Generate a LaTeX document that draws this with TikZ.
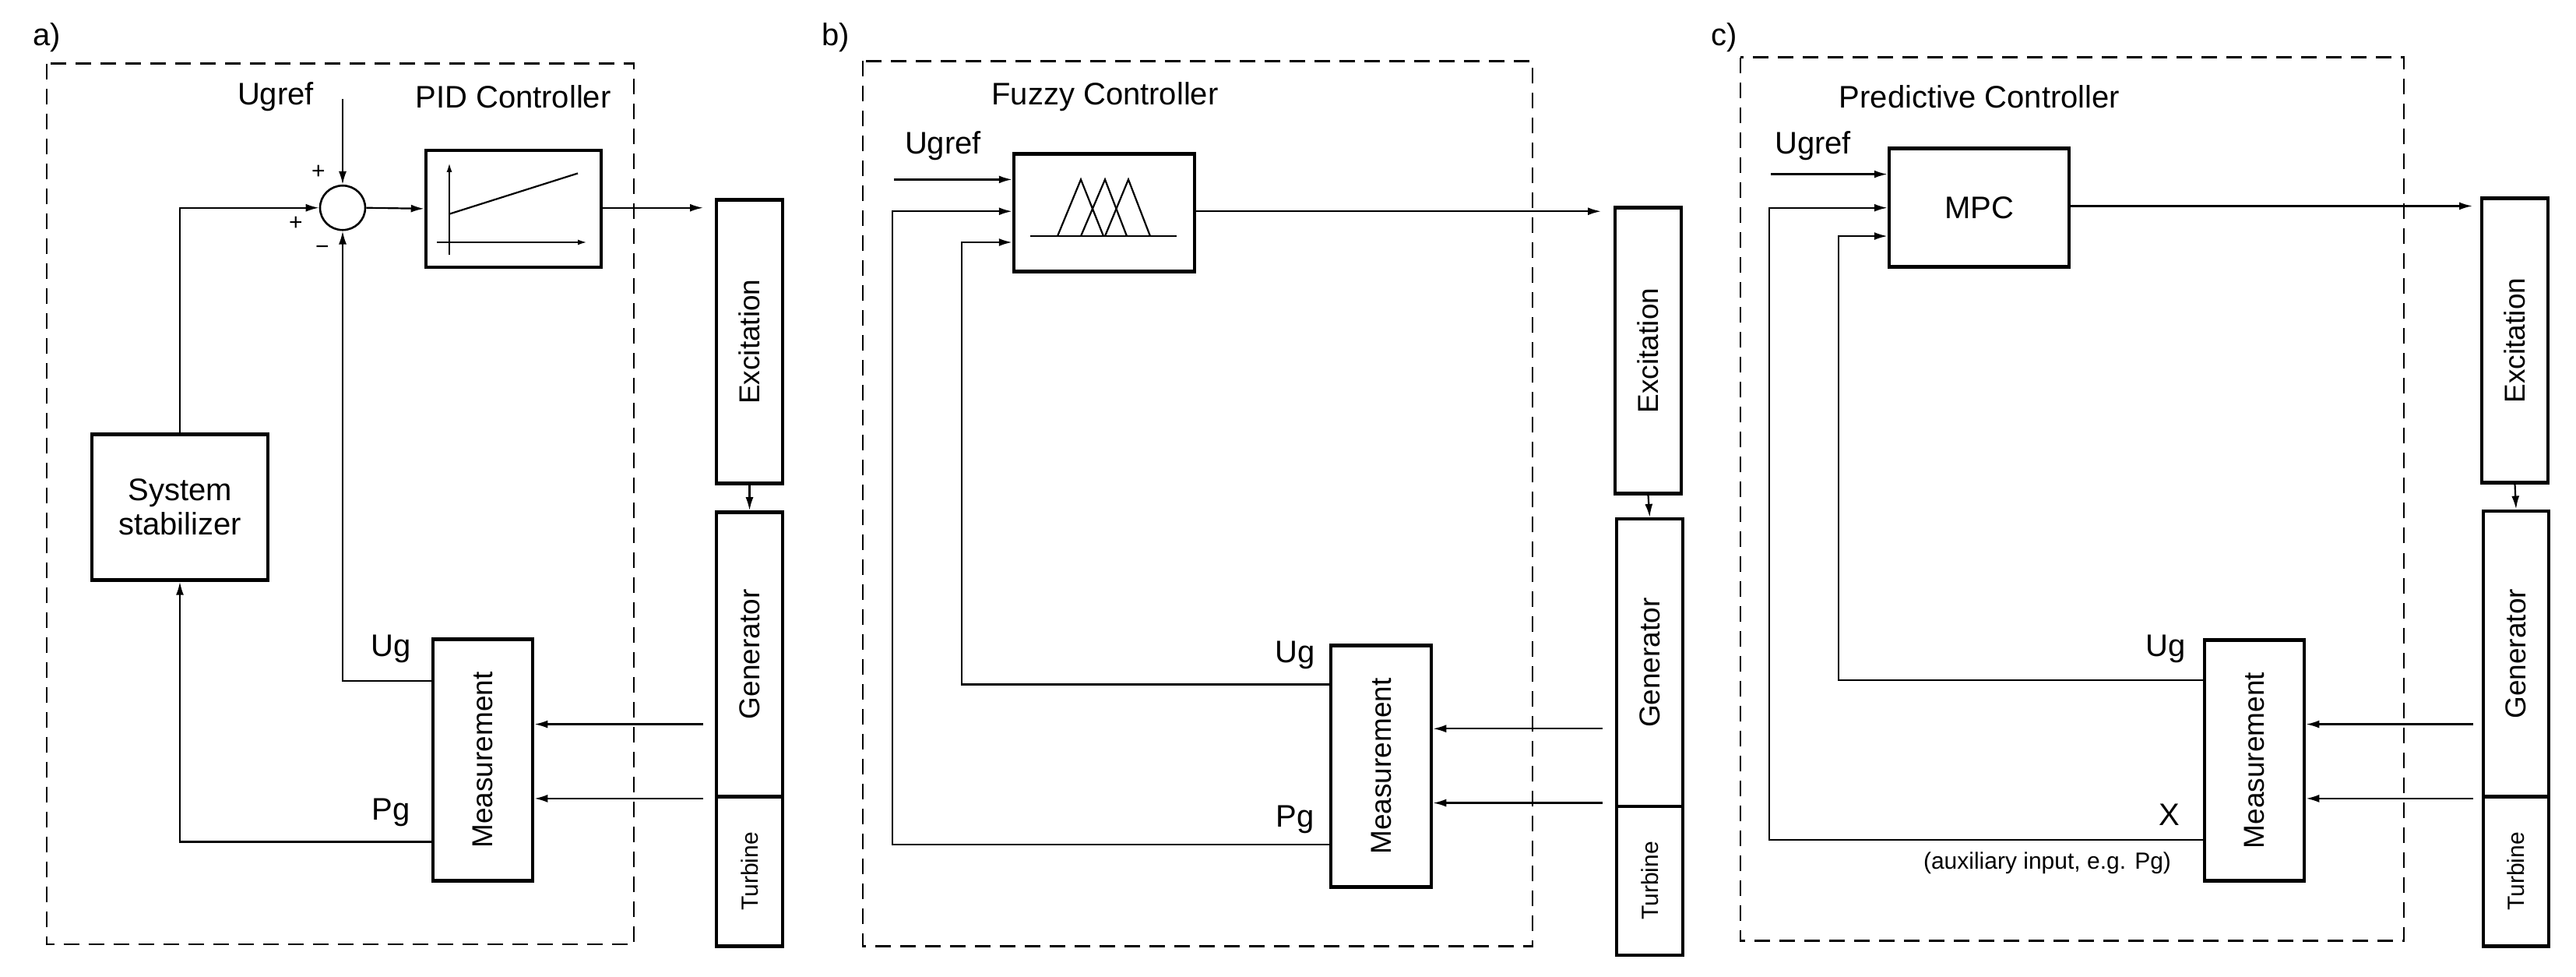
\documentclass[tikz,border=0pt]{standalone}
\usepackage{fontspec}
\setmainfont{Liberation Sans}
\usetikzlibrary{arrows.meta,calc,shapes.geometric}
\begin{document}
\begin{tikzpicture}[x=1pt,y=-1.135pt,
  ln/.style={line width=2.2pt},
  ar/.style={ln,-{Latex[length=17pt,width=10pt]}},
  box/.style={draw,line width=4.5pt,inner sep=0pt},
  dbox/.style={draw,line width=2.6pt,dash pattern=on 20pt off 12pt},
  lab/.style={font=\fontsize{40}{48}\selectfont,inner sep=0pt},
  vlab/.style={font=\fontsize{37}{44}\selectfont,rotate=90,inner sep=0pt},
  tlab/.style={font=\fontsize{30}{36}\selectfont,rotate=90,inner sep=0pt},
  sm/.style={font=\fontsize{30}{36}\selectfont,inner sep=0pt}]
\useasboundingbox (0,0) rectangle (3308,1104);
\fill[white] (0,0) rectangle (3308,1104);

%% ---------- a) ----------
\node[lab] (la) at (60,42) {a)};
\draw[dbox] (60,72) rectangle (814,1068);
\node[lab] (ugra) at (354,109) {Ugref};
\node[lab] (pidt) at (659,109) {PID Controller};
\node[draw,line width=2.6pt,ellipse,minimum width=58pt,minimum height=57pt,inner sep=0pt] (sum) at (440,235) {};
\node[sm] at (409,195) {+};
\node[sm] at (380,253) {+};
\node[sm] at (414,283) {\textminus};
\node[box,minimum width=225pt,minimum height=150pt] (pid) at (659.5,236) {};
\draw[ln,-{Latex[length=12pt,width=7pt]}] (577,288) -- (577,184);
\draw[ln,-{Latex[length=12pt,width=7pt]}] (561,274) -- (754,274);
\draw[ln] (577,242) -- (742,196);
\node[box,minimum width=85pt,minimum height=364pt] (exa) at (962.5,386.5) {};
\node[vlab] at (exa) {Excitation};
\node[box,minimum width=85pt,minimum height=365pt] (gena) at (962.5,740) {};
\node[vlab] at (gena) {Generator};
\node[box,minimum width=85pt,minimum height=192pt] (tura) at (962.5,985.5) {};
\node[tlab] at (tura) {Turbine};
\node[box,minimum width=226pt,minimum height=187pt,align=center] (stab) at (231,573.5) {};
\node[lab,align=center] at (stab) {System\\[-4pt]stabilizer};
\node[box,minimum width=128pt,minimum height=310pt] (mea) at (620,859.5) {};
\node[vlab] at (mea) {Measurement};
\node[lab] at (502,734) {Ug};
\node[lab] at (502,919) {Pg};
\coordinate (ua) at (440,112);
\coordinate (oa) at (903,235);
\coordinate (ga1) at (903,819);
\coordinate (ga2) at (903,903);
\draw[ar] (ua) -- (sum.north);
\draw[ar] (sum.east) -- (pid.west);
\draw[ar] (pid.east |- sum) -- (oa);
\draw[ar] (stab.north) |- (sum.west);
\draw[ar] (mea.west |- 0,770) -| (sum.south);
\draw[ar] (mea.west |- 0,952) -| (stab.south);
\draw[ar] (exa.south) -- (gena.north);
\draw[ar] (ga1) -- (mea.east |- ga1);
\draw[ar] (ga2) -- (mea.east |- ga2);

%% ---------- b) ----------
\node[lab] (lb) at (1073,42) {b)};
\draw[dbox] (1108,69) rectangle (1968,1070);
\node[lab] at (1419,109) {Fuzzy Controller};
\node[lab] at (1211,165) {Ugref};
\node[box,minimum width=232pt,minimum height=151pt] (fz) at (1418,240.5) {};
\draw[ln] (1323,267) -- (1511,267);
\draw[ln] (1358,267) -- (1388,203) -- (1417,267);
\draw[ln] (1388,267) -- (1419,203) -- (1447,267);
\draw[ln] (1419,267) -- (1449,203) -- (1477,267);
\node[box,minimum width=85pt,minimum height=367pt] (exb) at (2116.5,396.5) {};
\node[vlab] at (exb) {Excitation};
\node[box,minimum width=85pt,minimum height=369pt] (genb) at (2118.5,749.5) {};
\node[vlab] at (genb) {Generator};
\node[box,minimum width=85pt,minimum height=191pt] (turb) at (2118.5,996) {};
\node[tlab] at (turb) {Turbine};
\node[box,minimum width=129pt,minimum height=310pt] (meb) at (1773.5,866.5) {};
\node[vlab] at (meb) {Measurement};
\node[lab] at (1663,741) {Ug};
\node[lab] at (1663,927) {Pg};
\coordinate (ub) at (1148,203);
\coordinate (ob) at (2056,239);
\coordinate (gb1) at (2058,824);
\coordinate (gb2) at (2058,908);
\draw[ar] (ub) -- (fz.west |- ub);
\draw[ar] (fz.east |- ob) -- (ob);
\draw[ar] (meb.west |- 0,774) -| (1235,274) -- (fz.west |- 0,274);
\draw[ar] (meb.west |- 0,955) -| (1146,239) -- (fz.west |- 0,239);
\draw[ar] (exb.south) -- (genb.north);
\draw[ar] (gb1) -- (meb.east |- gb1);
\draw[ar] (gb2) -- (meb.east |- gb2);

%% ---------- c) ----------
\node[lab] (lc) at (2214,42) {c)};
\draw[dbox] (2235,65) rectangle (3087,1064);
\node[lab] at (2542,109) {Predictive Controller};
\node[lab] at (2328,165) {Ugref};
\node[box,minimum width=231pt,minimum height=152pt] (mpc) at (2541.5,235) {};
\node[lab] at (mpc) {MPC};
\node[box,minimum width=85pt,minimum height=365pt] (exc) at (3229.5,385) {};
\node[vlab] at (exc) {Excitation};
\node[box,minimum width=84pt,minimum height=367pt] (genc) at (3231,739.5) {};
\node[vlab] at (genc) {Generator};
\node[box,minimum width=84pt,minimum height=192pt] (turc) at (3231,985.5) {};
\node[tlab] at (turc) {Turbine};
\node[box,minimum width=128pt,minimum height=309pt] (mec) at (2895,860) {};
\node[vlab] at (mec) {Measurement};
\node[lab] at (2781,734) {Ug};
\node[lab] at (2786,921) {X};
\node[sm] at (2629,976) {(auxiliary input, e.g. Pg)};
\coordinate (uc) at (2274,197);
\coordinate (oc) at (3175,233);
\coordinate (gc1) at (3176,819);
\coordinate (gc2) at (3176,903);
\draw[ar] (uc) -- (mpc.west |- uc);
\draw[ar] (mpc.east |- oc) -- (oc);
\draw[ar] (mec.west |- 0,769) -| (2361,267) -- (mpc.west |- 0,267);
\draw[ar] (mec.west |- 0,950) -| (2272,235) -- (mpc.west |- 0,235);
\draw[ar] (exc.south) -- (genc.north);
\draw[ar] (gc1) -- (mec.east |- gc1);
\draw[ar] (gc2) -- (mec.east |- gc2);
\end{tikzpicture}
\end{document}
